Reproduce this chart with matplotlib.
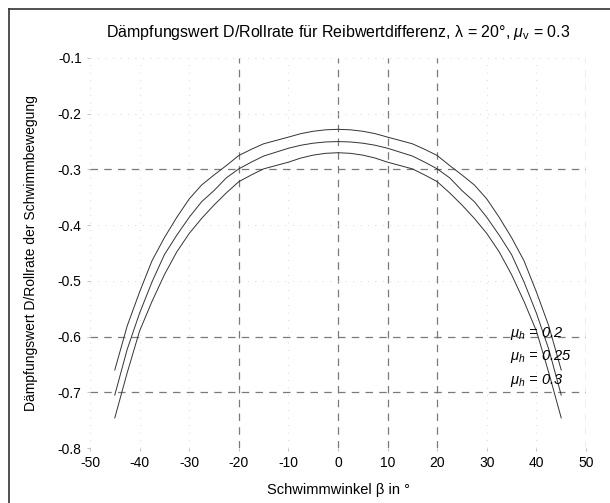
import matplotlib.pyplot as plt
from matplotlib.lines import Line2D

plt.rcParams['font.family'] = ['Liberation Sans', 'DejaVu Sans']
plt.rcParams['mathtext.fontset'] = 'custom'
plt.rcParams['mathtext.it'] = 'Liberation Sans:italic'
plt.rcParams['mathtext.rm'] = 'Liberation Sans'

# Schwimmwinkel beta in Grad
beta = [-45, -42.5, -40, -37.5, -35, -32.5, -30, -27.5, -25, -22.5, -20, -17.5, -15,
        -12.5, -10, -7.5, -5, -2.5, 0, 2.5, 5, 7.5, 10, 12.5, 15, 17.5, 20, 22.5,
        25, 27.5, 30, 32.5, 35, 37.5, 40, 42.5, 45]

# Daempfungswert fuer mu_h = 0.2 / 0.25 / 0.3, linke Haelfte bis beta = 0
half_020 = [-0.66, -0.581, -0.52, -0.464, -0.4225, -0.386, -0.353, -0.328, -0.31, -0.293,
            -0.275, -0.264, -0.254, -0.248, -0.242, -0.2358, -0.2315, -0.2289, -0.228]
half_025 = [-0.705, -0.623, -0.558, -0.502, -0.453, -0.418, -0.386, -0.358, -0.338, -0.315,
            -0.299, -0.287, -0.276, -0.269, -0.262, -0.2566, -0.2529, -0.2507, -0.25]
half_030 = [-0.746, -0.665, -0.59, -0.537, -0.489, -0.448, -0.415, -0.388, -0.364, -0.342,
            -0.322, -0.31, -0.299, -0.293, -0.287, -0.2796, -0.2743, -0.2711, -0.27]
# Kurven sind symmetrisch zu beta = 0
d_020 = half_020 + half_020[-2::-1]
d_025 = half_025 + half_025[-2::-1]
d_030 = half_030 + half_030[-2::-1]

labels = [r'$\mu_h$ = 0.2', r'$\mu_h$ = 0.25', r'$\mu_h$ = 0.3']
label_y = [-0.594, -0.635, -0.678]

xticks = [-50, -40, -30, -20, -10, 0, 10, 20, 30, 40, 50]
yticks = [-0.8, -0.7, -0.6, -0.5, -0.4, -0.3, -0.2, -0.1]
dashed_x = [-20, 0, 10, 20, 50]
dashed_y = [-0.3, -0.6, -0.7]

fig = plt.figure(figsize=(6.1, 5.03), dpi=100)
ax = fig.add_axes([0.1475, 0.1093, 0.8132, 0.7754])

# grid: some lines dashed, the rest very faint dotted (like the scan)
for x in xticks:
    if x in dashed_x:
        ax.axvline(x, color='#7a7a7a', lw=0.9, ls=(0, (6, 5)), zorder=0)
    else:
        ax.axvline(x, color='#cccccc', lw=0.6, ls=(0, (1, 8)), zorder=0)
for y in yticks:
    if y in dashed_y:
        ax.axhline(y, color='#7a7a7a', lw=0.9, ls=(0, (6, 5)), zorder=0)
    else:
        ax.axhline(y, color='#cccccc', lw=0.6, ls=(0, (1, 8)), zorder=0)

for d in [d_020, d_025, d_030]:
    ax.plot(beta, d, color='#333333', lw=0.7)

for lab, y in zip(labels, label_y):
    ax.text(34.7, y, lab, fontsize=10.5, va='center', ha='left', style='italic')

ax.set_xlim(-50, 50)
ax.set_ylim(-0.8, -0.1)
ax.set_xticks(xticks)
ax.set_yticks(yticks)
ax.set_xticklabels([str(x) for x in xticks])
ax.set_yticklabels([f'{y:.1f}' for y in yticks])
ax.tick_params(length=2, width=0.5, color='#aaaaaa', labelsize=10, pad=4)
for s in ax.spines.values():
    s.set_visible(False)

ax.set_title('Dämpfungswert D/Rollrate für Reibwertdifferenz, λ = 20°, $\\mu_\\mathrm{v}$ = 0.3',
             fontsize=11.5, pad=15)
ax.set_xlabel('Schwimmwinkel β in °', fontsize=10.5, labelpad=9)
ax.set_ylabel('Dämpfungswert D/Rollrate der Schwimmbewegung', fontsize=10, labelpad=14)

# outer frame of the original figure window
fig.add_artist(Line2D([9/610, 9/610], [0, 1 - 9/503], color='#333333', lw=1.2))
fig.add_artist(Line2D([9/610, 1], [1 - 9/503, 1 - 9/503], color='#333333', lw=1.2))

fig.savefig('out.png', dpi=100)
